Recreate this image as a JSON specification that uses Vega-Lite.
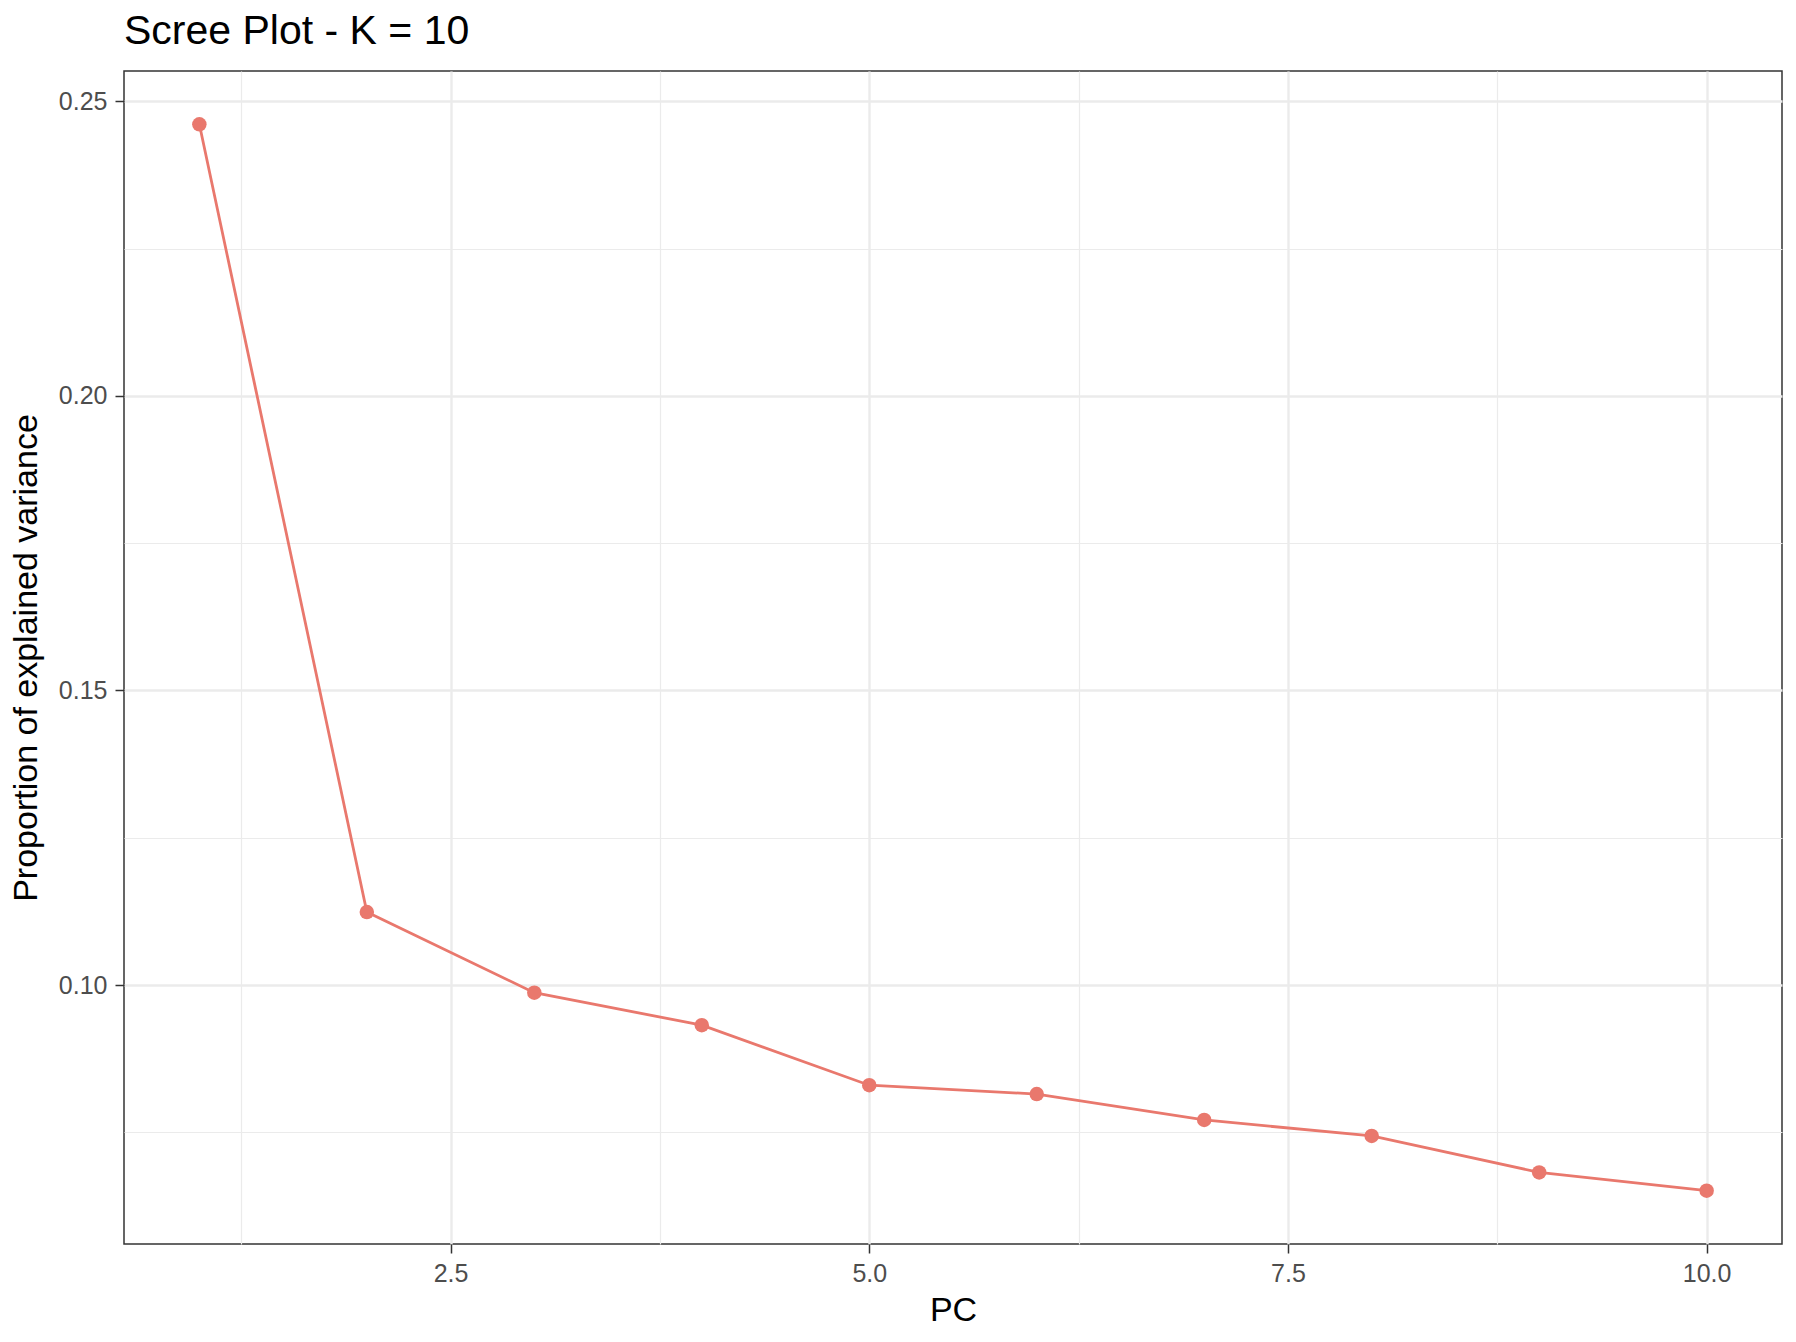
{
  "$schema": "https://vega.github.io/schema/vega-lite/v6.json",
  "autosize": "none",
  "width": 1658,
  "height": 1173,
  "padding": {"left": 124, "top": 71, "right": 14, "bottom": 98},
  "background": "white",
  "title": {
    "text": "Scree Plot - K = 10",
    "anchor": "start",
    "frame": "group",
    "font": "Liberation Sans",
    "fontSize": 41,
    "fontWeight": "normal",
    "color": "black",
    "offset": -14,
    "baseline": "alphabetic"
  },
  "config": {
    "view": {"stroke": "#333333", "strokeWidth": 1.5},
    "axis": {
      "labelFont": "Liberation Sans",
      "titleFont": "Liberation Sans",
      "labelFontSize": 25,
      "labelColor": "#4D4D4D",
      "titleFontSize": 34,
      "titleFontWeight": "normal",
      "titleColor": "black",
      "domain": false,
      "tickColor": "#333333",
      "tickWidth": 1.5,
      "tickSize": 9,
      "labelPadding": 8,
      "gridColor": "#EBEBEB"
    }
  },
  "data": {
    "values": [
      {"PC": 1, "prop": 0.2461},
      {"PC": 2, "prop": 0.1124},
      {"PC": 3, "prop": 0.0987},
      {"PC": 4, "prop": 0.0932},
      {"PC": 5, "prop": 0.0830},
      {"PC": 6, "prop": 0.0815},
      {"PC": 7, "prop": 0.0771},
      {"PC": 8, "prop": 0.0744},
      {"PC": 9, "prop": 0.0682},
      {"PC": 10, "prop": 0.0651}
    ]
  },
  "encoding": {
    "x": {
      "field": "PC",
      "type": "quantitative",
      "scale": {"domain": [0.55, 10.45], "nice": false, "zero": false}
    },
    "y": {
      "field": "prop",
      "type": "quantitative",
      "scale": {"domain": [0.05605, 0.25515], "nice": false, "zero": false}
    }
  },
  "layer": [
    {
      "mark": {"type": "rule", "strokeWidth": 0},
      "encoding": {
        "x": {
          "field": "PC",
          "type": "quantitative",
          "axis": {
            "orient": "bottom",
            "values": [1.25, 3.75, 6.25, 8.75],
            "labels": false,
            "ticks": false,
            "title": null,
            "grid": true,
            "gridWidth": 1.2
          }
        },
        "y": {
          "field": "prop",
          "type": "quantitative",
          "axis": {
            "orient": "left",
            "values": [0.075, 0.125, 0.175, 0.225],
            "labels": false,
            "ticks": false,
            "title": null,
            "grid": true,
            "gridWidth": 1.2
          }
        }
      }
    },
    {
      "mark": {
        "type": "line",
        "color": "#E9786D",
        "strokeWidth": 2.8,
        "point": {"filled": true, "opacity": 1, "color": "#E9786D", "size": 210}
      },
      "encoding": {
        "x": {
          "field": "PC",
          "type": "quantitative",
          "axis": {
            "orient": "bottom",
            "values": [2.5, 5, 7.5, 10],
            "format": ".1f",
            "title": "PC",
            "titlePadding": 7,
            "grid": true,
            "gridWidth": 2.4
          }
        },
        "y": {
          "field": "prop",
          "type": "quantitative",
          "axis": {
            "orient": "left",
            "values": [0.1, 0.15, 0.2, 0.25],
            "format": ".2f",
            "title": "Proportion of explained variance",
            "titlePadding": 15,
            "grid": true,
            "gridWidth": 2.4
          }
        }
      }
    }
  ],
  "resolve": {"axis": {"x": "independent", "y": "independent"}}
}
